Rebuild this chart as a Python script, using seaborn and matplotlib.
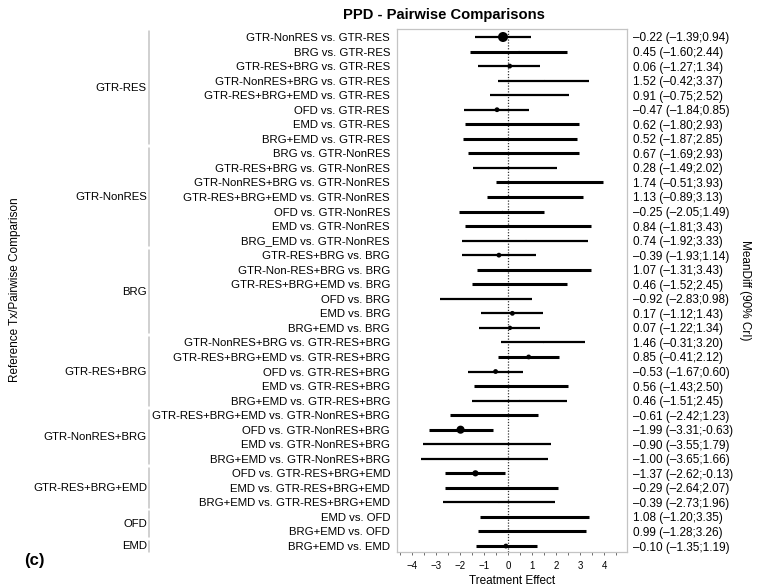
import numpy as np
import pandas as pd
import seaborn as sns
import matplotlib
matplotlib.use("Agg")
import matplotlib.pyplot as plt
from matplotlib.transforms import blended_transform_factory

# Pairwise comparisons
comparisons = [
    "GTR-NonRES vs. GTR-RES", "BRG vs. GTR-RES", "GTR-RES+BRG vs. GTR-RES",
    "GTR-NonRES+BRG vs. GTR-RES", "GTR-RES+BRG+EMD vs. GTR-RES", "OFD vs. GTR-RES",
    "EMD vs. GTR-RES", "BRG+EMD vs. GTR-RES",
    "BRG vs. GTR-NonRES", "GTR-RES+BRG vs. GTR-NonRES", "GTR-NonRES+BRG vs. GTR-NonRES",
    "GTR-RES+BRG+EMD vs. GTR-NonRES", "OFD vs. GTR-NonRES", "EMD vs. GTR-NonRES",
    "BRG_EMD vs. GTR-NonRES",
    "GTR-RES+BRG vs. BRG", "GTR-Non-RES+BRG vs. BRG", "GTR-RES+BRG+EMD vs. BRG",
    "OFD vs. BRG", "EMD vs. BRG", "BRG+EMD vs. BRG",
    "GTR-NonRES+BRG vs. GTR-RES+BRG", "GTR-RES+BRG+EMD vs. GTR-RES+BRG",
    "OFD vs. GTR-RES+BRG", "EMD vs. GTR-RES+BRG", "BRG+EMD vs. GTR-RES+BRG",
    "GTR-RES+BRG+EMD vs. GTR-NonRES+BRG", "OFD vs. GTR-NonRES+BRG",
    "EMD vs. GTR-NonRES+BRG", "BRG+EMD vs. GTR-NonRES+BRG",
    "OFD vs. GTR-RES+BRG+EMD", "EMD vs. GTR-RES+BRG+EMD", "BRG+EMD vs. GTR-RES+BRG+EMD",
    "EMD vs. OFD", "BRG+EMD vs. OFD",
    "BRG+EMD vs. EMD",
]
mean_diff = [-0.22, 0.45, 0.06, 1.52, 0.91, -0.47, 0.62, 0.52,
             0.67, 0.28, 1.74, 1.13, -0.25, 0.84, 0.74,
             -0.39, 1.07, 0.46, -0.92, 0.17, 0.07,
             1.46, 0.85, -0.53, 0.56, 0.46,
             -0.61, -1.99, -0.90, -1.00,
             -1.37, -0.29, -0.39,
             1.08, 0.99,
             -0.10]
lower = [-1.39, -1.60, -1.27, -0.42, -0.75, -1.84, -1.80, -1.87,
         -1.69, -1.49, -0.51, -0.89, -2.05, -1.81, -1.92,
         -1.93, -1.31, -1.52, -2.83, -1.12, -1.22,
         -0.31, -0.41, -1.67, -1.43, -1.51,
         -2.42, -3.31, -3.55, -3.65,
         -2.62, -2.64, -2.73,
         -1.20, -1.28,
         -1.35]
upper = [0.94, 2.44, 1.34, 3.37, 2.52, 0.85, 2.93, 2.85,
         2.93, 2.02, 3.93, 3.13, 1.49, 3.43, 3.33,
         1.14, 3.43, 2.45, 0.98, 1.43, 1.34,
         3.20, 2.12, 0.60, 2.50, 2.45,
         1.23, -0.63, 1.79, 1.66,
         -0.13, 2.07, 1.96,
         3.35, 3.26,
         1.19]
# marker area (weight) and line weight
point_size = [52, 1, 12, 1, 1, 12, 1, 1,
              1, 1, 1, 1, 1, 1, 1,
              12, 1, 1, 1, 12, 10,
              1, 12, 12, 1, 1,
              1, 34, 1, 1,
              20, 1, 1,
              1, 1,
              12]
line_w = [1.6, 2.2, 1.6, 1.6, 1.6, 1.6, 2.2, 2.2,
          2.2, 1.6, 2.2, 2.2, 2.2, 2.2, 1.6,
          1.6, 2.2, 2.2, 1.6, 1.6, 1.6,
          1.6, 2.2, 1.6, 2.2, 1.6,
          2.2, 2.2, 1.6, 1.6,
          2.2, 2.2, 1.6,
          2.2, 2.2,
          2.2]
groups = ["GTR-RES", "GTR-NonRES", "BRG", "GTR-RES+BRG", "GTR-NonRES+BRG",
          "GTR-RES+BRG+EMD", "OFD", "EMD"]
group_counts = [8, 7, 6, 5, 4, 3, 2, 1]

df = pd.DataFrame({"comparison": comparisons, "mean": mean_diff,
                   "lower": lower, "upper": upper,
                   "size": point_size, "lw": line_w})
df["row"] = np.arange(len(df))


def fmt(v, dash="\u2013"):
    s = f"{v:.2f}"
    return s.replace("-", dash)


df["label"] = [f"{fmt(m)} ({fmt(l)};{fmt(u, '-')})"
               for m, l, u in zip(df["mean"], df["lower"], df["upper"])]

sns.set_theme(style="white")
plt.rcParams["font.family"] = ["Liberation Sans", "DejaVu Sans"]
plt.rcParams["text.color"] = "black"
plt.rcParams["axes.labelcolor"] = "black"
plt.rcParams["xtick.color"] = "black"
plt.rcParams["ytick.color"] = "black"

W, H = 765, 586
fig = plt.figure(figsize=(W / 100, H / 100), dpi=100)
ax = fig.add_axes([397 / W, 1 - 552 / H, 230 / W, 523 / H])

ax.axvline(0, color="#333333", ls=(0, (1, 1.3)), lw=0.9, zorder=1)
for _, r in df.iterrows():
    ax.hlines(r["row"], r["lower"], r["upper"], color="black", lw=r["lw"], zorder=2)
sns.scatterplot(data=df, x="mean", y="row", size="size", sizes=(1, 52),
                size_norm=(1, 52), color="black", edgecolor="none",
                legend=False, ax=ax, zorder=3)

n = len(df)
ax.set_ylim(n - 1 + 0.41, -0.55)
ax.set_xlim(-4.64, 4.95)
ax.set_yticks(df["row"])
ax.set_yticklabels(df["comparison"], fontsize=8.2)
ax.tick_params(axis="y", length=0, pad=5)
ax.set_xticks(range(-4, 5))
ax.set_xticks(np.arange(-4.5, 4.6, 0.5), minor=True)
ax.tick_params(axis="x", which="both", bottom=True, length=2.5, width=0.6,
               color="#555555", labelsize=7, pad=4)
ax.set_xlabel("Treatment Effect", fontsize=8.5, labelpad=3)
ax.set_ylabel("")
for sp in ax.spines.values():
    sp.set_color("#c4c4c4")
    sp.set_linewidth(0.9)

# right side labels
ax2 = ax.twinx()
ax2.set_ylim(ax.get_ylim())
ax2.set_yticks(df["row"])
ax2.set_yticklabels(df["label"], fontsize=8.5)
ax2.tick_params(axis="y", length=0, pad=4)
for sp in ax2.spines.values():
    sp.set_visible(False)

# group brackets and labels
trans = blended_transform_factory(fig.transFigure, ax.transData)
start = 0
for g, c in zip(groups, group_counts):
    y0 = start - 0.5 + 0.12
    y1 = start + c - 1 + 0.5 - 0.12
    ax.plot([148.5 / W, 148.5 / W], [y0, y1], color="#c4c4c4", lw=1.1,
            transform=trans, clip_on=False)
    ax.text(147 / W, start + (c - 1) / 2, g, transform=trans, ha="right",
            va="center", fontsize=8.2)
    start += c

fig.text(444 / W, 1 - 15 / H, "PPD - Pairwise Comparisons", ha="center",
         va="center", fontsize=10.6, fontweight="bold")
fig.text(15 / W, 1 - 290 / H, "Reference Tx/Pairwise Comparison", rotation=90,
         ha="center", va="center", fontsize=8.5)
fig.text(745 / W, 1 - 290 / H, "MeanDiff (90% CrI)", rotation=270,
         ha="center", va="center", fontsize=8.5)
fig.text(24 / W, 1 - 561 / H, "(c)", ha="left", va="center", fontsize=12,
         fontweight="bold")

fig.savefig("out.png", dpi=100)
